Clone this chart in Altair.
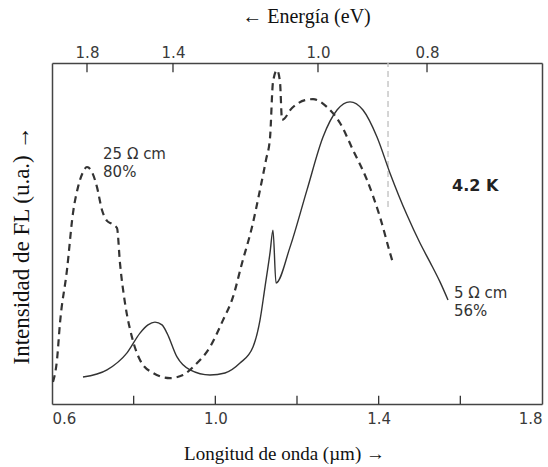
import altair as alt
import pandas as pd

# ---- data ----
# dashed curve: 25 Ohm cm, 80%
dash_wl = [0.6024, 0.6122, 0.6196, 0.6367, 0.6514, 0.6637, 0.6759, 0.6857, 0.6980, 0.7102,
           0.7224, 0.7347, 0.7469, 0.7592, 0.7665, 0.7788, 0.7959, 0.8155, 0.8473, 0.8890,
           0.9208, 0.9502, 0.9869, 1.0188, 1.0433, 1.0653, 1.0898, 1.1094, 1.1241, 1.1339,
           1.1412, 1.1510, 1.1584, 1.1633, 1.1878, 1.2196, 1.2392, 1.2735, 1.3053, 1.3371,
           1.3714, 1.4033, 1.4278, 1.4351]
dash_int = [6.5, 12.9, 23.8, 39.3, 56.0, 63.6, 68.0, 69.5, 68.0, 63.6,
            56.9, 53.7, 52.8, 51.6, 41.3, 29.6, 19.6, 12.9, 9.1, 7.6,
            8.5, 11.4, 16.7, 24.6, 31.4, 41.3, 51.9, 62.8, 71.6, 78.0,
            94.4, 97.9, 94.4, 83.3, 86.8, 89.1, 89.4, 87.1, 82.4, 74.5,
            65.7, 54.8, 44.3, 41.3]

# solid curve: 5 Ohm cm, 56%
solid_wl = [0.6759, 0.7347, 0.7837, 0.8155, 0.8351, 0.8522, 0.8694, 0.8816, 0.9061, 0.9380,
            0.9869, 1.0237, 1.0604, 1.0922, 1.1094, 1.1216, 1.1339, 1.1412, 1.1486, 1.1829,
            1.2245, 1.2637, 1.2980, 1.3298, 1.3616, 1.3959, 1.4278, 1.4694, 1.5012, 1.5257,
            1.5502, 1.5698]
solid_int = [7.9, 10.0, 15.0, 20.8, 23.2, 24.0, 23.2, 20.8, 13.8, 10.0,
             8.5, 9.1, 12.0, 16.7, 24.6, 34.3, 44.3, 51.0, 35.5, 46.0,
             62.8, 78.3, 86.2, 88.6, 86.2, 78.3, 67.7, 55.4, 47.2, 41.6,
             35.8, 30.5]

# axes
x_domain = [0.6, 1.8]
y_domain = [0, 100]
bottom_labels = [0.6, 1.0, 1.4, 1.8]
bottom_ticks = [0.8, 1.0, 1.2, 1.4, 1.6]
top_tick_wl = [0.6857, 0.8963, 1.2514, 1.5184]
top_tick_text = ["1.8", "1.4", "1.0", "0.8"]
marker_wl = [1.4229]

# annotations
ann_wl = [0.725, 0.725, 1.5845, 1.5845]
ann_int = [73.3, 68.0, 32.6, 27.3]
ann_text = ["25 \u03a9 cm", "80%", "5 \u03a9 cm", "56%"]
bold_wl = [1.5796]
bold_int = [63.9]
bold_text = ["4.2 K"]

# ---- build ----
dash_df = pd.DataFrame({"wl": dash_wl, "v": dash_int})
solid_df = pd.DataFrame({"wl": solid_wl, "v": solid_int})
bt_df = pd.DataFrame({"wl": bottom_ticks, "y0": [0.0] * len(bottom_ticks), "y1": [2.4] * len(bottom_ticks)})
tt_df = pd.DataFrame({"wl": top_tick_wl, "y0": [100.0] * len(top_tick_wl), "y1": [97.3] * len(top_tick_wl)})
mk_df = pd.DataFrame({"wl": marker_wl, "y0": [57.8], "y1": [100.0]})
ann_df = pd.DataFrame({"wl": ann_wl, "v": ann_int, "t": ann_text})
bold_df = pd.DataFrame({"wl": bold_wl, "v": bold_int, "t": bold_text})

xs = alt.Scale(domain=x_domain, nice=False, zero=False)
ys = alt.Scale(domain=y_domain, nice=False, zero=True)

SERIF = "Liberation Serif"
SANS = "DejaVu Sans"
INK = "#333333"
FRAME = "#444444"

left_axis = alt.Axis(labels=False, ticks=False, domain=True, domainColor=FRAME, domainWidth=1.5,
                     grid=False,
                     title="Intensidad de FL (u.a.) \u2192", titleFont=SERIF, titleFontSize=23,
                     titleFontWeight="normal", titleColor="#111111",
                     titleX=-31, titleY=182, titleBaseline="middle", titleAngle=270)

right_axis = alt.Axis(orient="right", labels=False, ticks=False, domain=True, domainColor=FRAME,
                      domainWidth=1.5, grid=False, title="")

bottom_axis = alt.Axis(values=bottom_labels, format=".1f", ticks=False, domain=True,
                       domainColor=FRAME, domainWidth=1.5, grid=False,
                       labelFont=SANS, labelFontSize=15, labelColor="#3a3a3a", labelPadding=7,
                       title="Longitud de onda (\u00b5m) \u2192", titleFont=SERIF, titleFontSize=19,
                       titleFontWeight="normal", titleColor="#111111",
                       titleX=232, titleY=49, titleBaseline="middle")

label_expr = " : ".join(
    f"datum.value < {w + 0.01} ? '{t}'" for w, t in zip(top_tick_wl[:-1], top_tick_text[:-1])
) + f" : '{top_tick_text[-1]}'"

top_axis = alt.Axis(orient="top", values=top_tick_wl, labelExpr=label_expr, ticks=False,
                    domain=True, domainColor=FRAME, domainWidth=1.5, grid=False,
                    labelFont=SANS, labelFontSize=15, labelColor="#3a3a3a", labelPadding=3,
                    title="\u2190 Energ\u00eda (eV)", titleFont=SERIF, titleFontSize=20,
                    titleFontWeight="normal", titleColor="#111111",
                    titleX=254, titleY=-47, titleBaseline="middle")

dashed = alt.Chart(dash_df).mark_line(
    color=INK, strokeWidth=2.2, strokeDash=[7, 5], interpolate="monotone"
).encode(
    x=alt.X("wl:Q", scale=xs, axis=bottom_axis),
    y=alt.Y("v:Q", scale=ys, axis=left_axis),
)

solid = alt.Chart(solid_df).mark_line(
    color=INK, strokeWidth=1.4, interpolate="monotone"
).encode(
    x=alt.X("wl:Q", scale=xs, axis=None),
    y=alt.Y("v:Q", scale=ys, axis=None),
)

bticks = alt.Chart(bt_df).mark_rule(color=INK, strokeWidth=1.3).encode(
    x=alt.X("wl:Q", scale=xs, axis=None),
    y=alt.Y("y0:Q", scale=ys, axis=None),
    y2="y1:Q",
)

tticks = alt.Chart(tt_df).mark_rule(color=INK, strokeWidth=1.3).encode(
    x=alt.X("wl:Q", scale=xs, axis=top_axis),
    y=alt.Y("y0:Q", scale=ys, axis=right_axis),
    y2="y1:Q",
)

marker = alt.Chart(mk_df).mark_rule(color="#c4c4c4", strokeWidth=1.4, strokeDash=[6, 4]).encode(
    x=alt.X("wl:Q", scale=xs, axis=None),
    y=alt.Y("y0:Q", scale=ys, axis=None),
    y2="y1:Q",
)

ann = alt.Chart(ann_df).mark_text(
    font=SANS, fontSize=15, color=INK, align="left", baseline="middle"
).encode(
    x=alt.X("wl:Q", scale=xs, axis=None),
    y=alt.Y("v:Q", scale=ys, axis=None),
    text="t:N",
)

bold = alt.Chart(bold_df).mark_text(
    font=SANS, fontSize=16, fontWeight="bold", color="#222222", align="left", baseline="middle"
).encode(
    x=alt.X("wl:Q", scale=xs, axis=None),
    y=alt.Y("v:Q", scale=ys, axis=None),
    text="t:N",
)

chart = alt.layer(marker, dashed, solid, bticks, tticks, ann, bold).resolve_axis(
    x="independent", y="independent"
).properties(
    width=490, height=341,
    autosize=alt.AutoSizeParams(type="none"),
    padding={"left": 52, "top": 63, "right": 6, "bottom": 63},
    background="white",
).configure_view(stroke=None)

chart.save("out.html", embed_options={"renderer": "svg", "actions": False})
